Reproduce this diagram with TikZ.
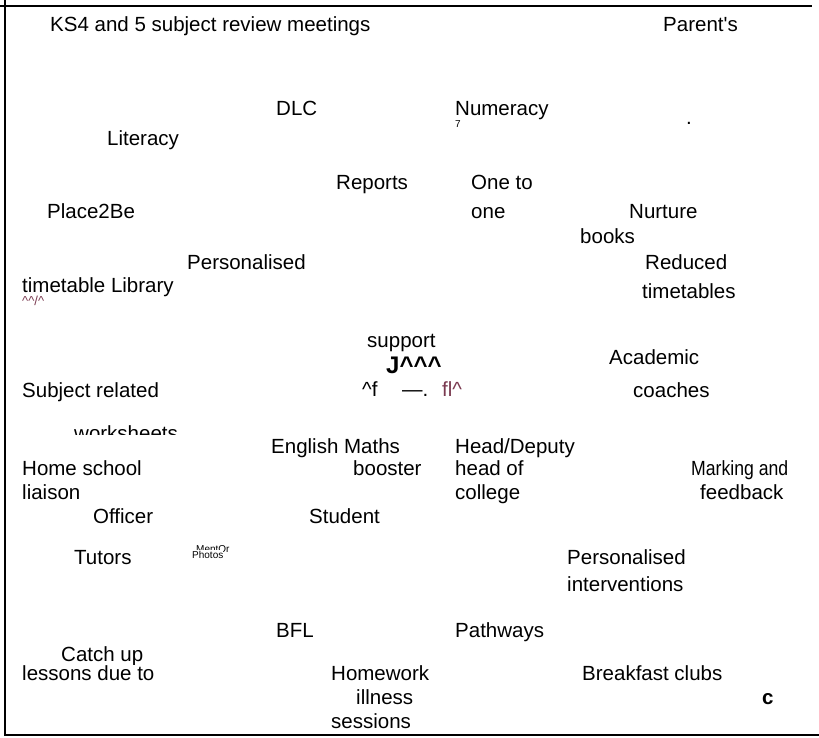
\documentclass[tikz,border=0pt]{standalone}
\usepackage{fontspec}
\setmainfont{Liberation Sans}
\definecolor{plum}{HTML}{7A3A50}
\begin{document}
\begin{tikzpicture}[x=1pt,y=-1pt,
  lbl/.style={anchor=base west,inner sep=0pt,font=\fontsize{20.5}{24}\selectfont},
  tiny/.style={anchor=base west,inner sep=0pt,font=\fontsize{10}{12}\selectfont},
  frame/.style={line width=2pt,black}]
\useasboundingbox (0,0) rectangle (819,737);
% frame
\draw[frame] (0,6) -- (812,6);
\draw[frame] (5,0) -- (5,735) -- (819,735);
% texts
\node[lbl] (ks) at (50,31) {KS4 and 5 subject review meetings};
\node[lbl] (par) at (663,31) {Parent\textquotesingle s};
\node[lbl] (dlc) at (276,115) {DLC};
\node[lbl] (num) at (455,115) {Numeracy};
\node[tiny] (seven) at (455,127) {7};
\node[lbl] (dot) at (686,124) {.};
\node[lbl] (lit) at (107,145) {Literacy};
\node[lbl] (rep) at (336,189) {Reports};
\node[lbl] (oneto) at (471,189) {One to};
\node[lbl] (p2b) at (47,218) {Place2Be};
\node[lbl] (one) at (471,218) {one};
\node[lbl] (nur) at (629,218) {Nurture};
\node[lbl] (books) at (580,243) {books};
\node[lbl] (pers) at (187,269) {Personalised};
\node[lbl] (red) at (645,269) {Reduced};
\node[lbl] (tlib) at (22,292) {timetable Library};
\node[anchor=base west,inner sep=0pt,font=\fontsize{13}{15}\selectfont,text=plum] (sq) at (22,305) {\^{}\^{}/\^{}};
\node[lbl] (tts) at (642,298) {timetables};
\node[lbl] (sup) at (367,347) {support};
\node[anchor=base west,inner sep=0pt,font=\fontsize{24}{27}\selectfont\bfseries] (jjj) at (386,373) {J\^{}\^{}\^{}};
\node[lbl] (aca) at (609,364) {Academic};
\node[lbl] (subj) at (22,397) {Subject related};
\node[lbl] (hf) at (362,396) {\^{}f};
\node[lbl] (dash) at (402,396) {—.};
\node[lbl,text=plum] (fl) at (442,396) {fl\^{}};
\node[lbl] (coa) at (633,397) {coaches};
\begin{scope}
\clip (60,420) rectangle (200,434);
\node[lbl] (wks) at (74,440) {worksheets};
\end{scope}
\node[lbl] (eng) at (271,453) {English Maths};
\node[lbl] (head) at (455,453) {Head/Deputy};
\node[lbl] (home) at (22,475) {Home school};
\node[lbl] (boo) at (353,475) {booster};
\node[lbl] (hof) at (455,475) {head of};
\node[lbl] (mark) at (691,475) {\scalebox{0.86}[1]{Marking and}};
\node[lbl] (lia) at (22,499) {liaison};
\node[lbl] (col) at (455,499) {college};
\node[lbl] (feed) at (700,499) {feedback};
\node[lbl] (off) at (93,523) {Officer};
\node[lbl] (stu) at (309,523) {Student};
\node[lbl] (tut) at (74,564) {Tutors};
\node[tiny] (ment) at (196,552) {MentOr};
\node[tiny,fill=white,inner ysep=0.5pt] (pho) at (192,558) {Photos};
\node[lbl] (pint) at (567,564) {Personalised};
\node[lbl] (intv) at (567,591) {interventions};
\node[lbl] (bfl) at (276,637) {BFL};
\node[lbl] (path) at (455,637) {Pathways};
\begin{scope}
\clip (50,640) rectangle (200,664);
\node[lbl] (catch) at (61,661) {Catch up};
\end{scope}
\node[lbl] (less) at (22,680) {lessons due to};
\node[lbl] (hw) at (331,680) {Homework};
\node[lbl] (bc) at (582,680) {Breakfast clubs};
\node[lbl] (ill) at (356,704) {illness};
\node[lbl,font=\fontsize{20.5}{24}\selectfont\bfseries] (c) at (762,704) {c};
\node[lbl] (ses) at (331,728) {sessions};
\end{tikzpicture}
\end{document}
